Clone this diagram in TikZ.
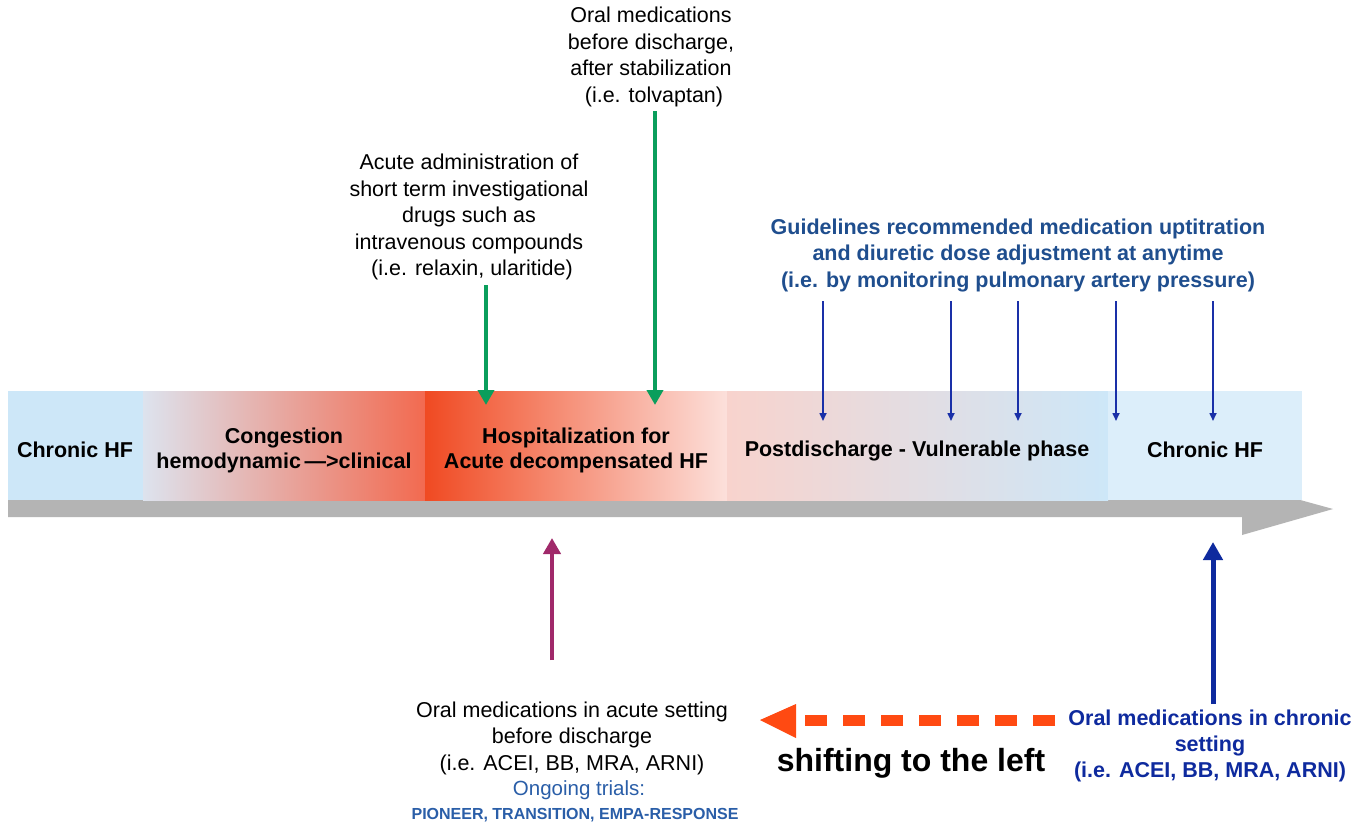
\documentclass[tikz,border=0pt]{standalone}
\usepackage{fontspec}
\setmainfont{Liberation Sans}
\usetikzlibrary{arrows.meta}
\definecolor{lblue}{HTML}{CDE7F8}
\definecolor{lblue2}{HTML}{DCEEFA}
\definecolor{greyblue}{HTML}{DDE3EE}
\definecolor{redA}{HTML}{F26A50}
\definecolor{redB}{HTML}{F04A22}
\definecolor{pinkA}{HTML}{FCE0DB}
\definecolor{pinkB}{HTML}{F8D3CD}
\definecolor{greenA}{HTML}{0A9E5C}
\definecolor{navyA}{HTML}{1A30A8}
\definecolor{navyB}{HTML}{0E2A9E}
\definecolor{gblue}{HTML}{1F4E8E}
\definecolor{tblue}{HTML}{2A5EA8}
\definecolor{purpA}{HTML}{A0296A}
\definecolor{orangeA}{HTML}{FF4A12}
\definecolor{greyA}{HTML}{B4B4B4}
\tikzset{
  seg/.style={minimum height=109pt, inner sep=0pt, outer sep=0pt, anchor=north west, draw=none},
  segtext/.style={font=\fontsize{21.5}{25}\selectfont\bfseries, align=center, text=black},
  note/.style={font=\fontsize{21.5}{26.5}\selectfont, align=center, text=black},
  greenarr/.style={draw=greenA, line width=4pt, -{Triangle[width=16pt,length=15pt]}},
  bluearr/.style={draw=navyA, line width=1.6pt, -{Triangle[width=7pt,length=8pt]}},
}
\begin{document}
\begin{tikzpicture}[x=1pt,y=-1pt]
\useasboundingbox (0,0) rectangle (1369,827);
\fill[white] (0,0) rectangle (1369,827);
% grey timeline arrow
\fill[greyA] (8,500) -- (1242,500) -- (1242,484) -- (1333,509) -- (1242,535) -- (1242,517) -- (8,517) -- cycle;
% band segments
\node[seg, minimum width=135pt, fill=lblue] (s1) at (8,391) {};
\node[seg, minimum width=282pt, left color=greyblue, right color=redA] (s2) at (143,391) {};
\node[seg, minimum width=302pt, left color=redB, right color=pinkA] (s3) at (425,391) {};
\node[seg, minimum width=381pt, left color=pinkB, right color=lblue] (s4) at (727,391) {};
\node[seg, minimum width=194pt, fill=lblue2] (s5) at (1108,391) {};
% band labels
\node[segtext] (t1) at (75,450) {Chronic HF};
\node[segtext] (t2) at (284,450) {Congestion\\hemodynamic\,—>clinical};
\node[segtext] (t3) at (576,450) {Hospitalization for\\Acute decompensated HF};
\node[segtext] (t4) at (917,451) {Postdischarge - Vulnerable phase};
\node[segtext] (t5) at (1205,450) {Chronic HF};
% top notes
\node[note] (tolv) at (651,57) {Oral medications\\before discharge,\\after stabilization\\\ (i.e. tolvaptan)};
\node[note] (acute) at (469,217) {Acute administration of\\short term investigational\\drugs such as\\intravenous compounds\\\ (i.e. relaxin, ularitide)};
\node[font=\fontsize{21.5}{26.5}\selectfont\bfseries, align=center, text=gblue] (guide) at (1018,255) {Guidelines recommended medication uptitration\\and diuretic dose adjustment at anytime\\(i.e. by monitoring pulmonary artery pressure)};
% green arrows
\coordinate (ga1) at (486,285); \coordinate (gb1) at (486,405);
\coordinate (ga2) at (655,111); \coordinate (gb2) at (655,405);
\draw[greenarr] (ga1) -- (gb1);
\draw[greenarr] (ga2) -- (gb2);
% blue thin arrows
\foreach \i/\x in {1/823,2/951,3/1018,4/1116,5/1213}{
  \coordinate (ba\i) at (\x,301); \coordinate (bb\i) at (\x,421);
  \draw[bluearr] (ba\i) -- (bb\i);
}
% purple arrow
\coordinate (pa) at (552,660); \coordinate (pb) at (552,538);
\draw[draw=purpA, line width=4.5pt, -{Triangle[width=17pt,length=16pt]}] (pa) -- (pb);
% navy thick arrow
\coordinate (na) at (1213,704); \coordinate (nb) at (1213,542);
\draw[draw=navyB, line width=5pt, -{Triangle[width=19pt,length=18pt]}] (na) -- (nb);
% bottom notes
\node[note] (oralacute) at (572,738) {Oral medications in acute setting\\before discharge\\(i.e. ACEI, BB, MRA, ARNI)};
\node[font=\fontsize{20.5}{22}\selectfont, text=tblue] (trials) at (579,790) {Ongoing trials:};
\node[font=\fontsize{16}{18}\selectfont\bfseries, text=tblue] (trialnames) at (575,815) {PIONEER, TRANSITION, EMPA-RESPONSE};
\node[font=\fontsize{21.5}{26}\selectfont\bfseries, align=center, text=navyB] (oralchronic) at (1210,746) {Oral medications in chronic\\setting\\(i.e. ACEI, BB, MRA, ARNI)};
\node[font=\fontsize{32}{34}\selectfont\bfseries, text=black] (shift) at (911,763) {shifting to the left};
% orange dashed arrow
\coordinate (oa) at (1055,720); \coordinate (ob) at (795,720);
\draw[draw=orangeA, line width=11pt, dash pattern=on 22pt off 16pt] (oa) -- (ob);
\coordinate (otip) at (760,720);
\fill[orangeA] (otip) -- (796,704) -- (796,738) -- cycle;
\end{tikzpicture}
\end{document}
